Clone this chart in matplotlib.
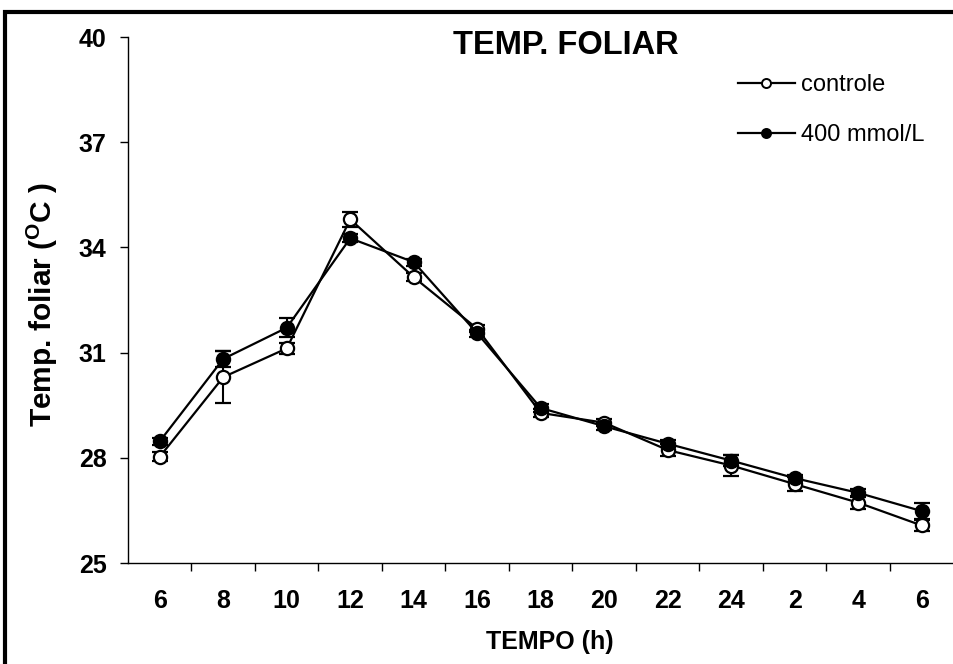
import matplotlib
matplotlib.use("Agg")
import matplotlib.pyplot as plt
from matplotlib.lines import Line2D
from matplotlib.patches import Rectangle

plt.rcParams['font.family'] = ['Liberation Sans', 'DejaVu Sans']
plt.rcParams['mathtext.default'] = 'regular'

# leaf temperature over a 24 h cycle
horas = ['6', '8', '10', '12', '14', '16', '18', '20', '22', '24', '2', '4', '6']
controle = [28.03, 30.30, 31.12, 34.80, 33.15, 31.68, 29.28, 29.00, 28.22, 27.78, 27.25, 26.72, 26.07]
controle_ep = [0.13, 0.75, 0.15, 0.22, 0.12, 0.10, 0.12, 0.10, 0.17, 0.30, 0.20, 0.18, 0.15]
salino = [28.47, 30.82, 31.71, 34.26, 33.58, 31.55, 29.42, 28.90, 28.40, 27.92, 27.42, 27.00, 26.48]
salino_ep = [0.10, 0.22, 0.27, 0.12, 0.10, 0.10, 0.10, 0.10, 0.10, 0.15, 0.10, 0.12, 0.22]
yticks = [25, 28, 31, 34, 37, 40]

W, H = 954, 664
fig = plt.figure(figsize=(W / 100, H / 100), dpi=100)
ax = fig.add_axes([128 / W, 1 - 563 / H, (953.5 - 128) / W, (563 - 37) / H])

x = list(range(len(horas)))
ax.errorbar(x, controle, yerr=controle_ep, fmt='-o', color='black', mfc='white',
            mec='black', mew=1.6, ms=9.5, lw=1.6, elinewidth=1.5, capsize=5.5,
            capthick=1.5, zorder=3)
ax.errorbar(x, salino, yerr=salino_ep, fmt='-o', color='black', mfc='black',
            mec='black', mew=1.6, ms=9.5, lw=1.6, elinewidth=1.5, capsize=5.5,
            capthick=1.5, zorder=4)

ax.set_xlim(-0.5, len(horas) - 0.5)
ax.set_ylim(25, 40)
ax.set_yticks(yticks)
ax.set_xticks(x)
ax.set_xticklabels(horas, fontsize=18, fontweight='bold')
ax.set_xticks([i + 0.5 for i in range(len(horas) - 1)], minor=True)
ax.tick_params(axis='x', which='major', length=0, pad=19)
ax.tick_params(axis='x', which='minor', length=6, width=1, direction='out')
ax.tick_params(axis='y', length=6, width=1, direction='out', pad=9.5, labelsize=18)
for lab in ax.get_yticklabels():
    lab.set_fontweight('bold')

for s in ['top', 'right']:
    ax.spines[s].set_visible(False)
ax.spines['left'].set_linewidth(1)
ax.spines['bottom'].set_linewidth(1)

ax.set_xlabel('TEMPO (h)', fontsize=18, fontweight='bold')
ax.xaxis.set_label_coords((550 - 128) / (953.5 - 128), -(642 - 563) / (563 - 37))
ax.xaxis.label.set_va('center')
ax.set_ylabel('Temp. foliar ($^{O}$C )', fontsize=21.5, fontweight='bold')
ax.yaxis.set_label_coords(-(128 - 42) / (953.5 - 128), (563 - 304) / (563 - 37))
ax.yaxis.label.set_va('center')

fig.text(566 / W, 1 - 46 / H, 'TEMP. FOLIAR', fontsize=23.5, fontweight='bold',
         ha='center', va='center')

handles = [
    Line2D([], [], color='black', lw=1.6, marker='o', ms=6.5, mfc='white', mec='black', mew=1.4),
    Line2D([], [], color='black', lw=1.6, marker='o', ms=6.5, mfc='black', mec='black', mew=1.4),
]
fig.legend(handles, ['controle', '400 mmol/L'], loc='upper left',
           bbox_to_anchor=(738 / W, 1 - 74 / H), frameon=False, fontsize=17,
           handlelength=2.4, handletextpad=0.25, labelspacing=1.2,
           borderpad=0, borderaxespad=0)

# outer frame
fig.patches.append(Rectangle((5 / W, -0.2), 1.3, 1.2 - 12 / H, transform=fig.transFigure,
                             fill=False, lw=3, edgecolor='black'))

fig.savefig('out.png', dpi=100)
